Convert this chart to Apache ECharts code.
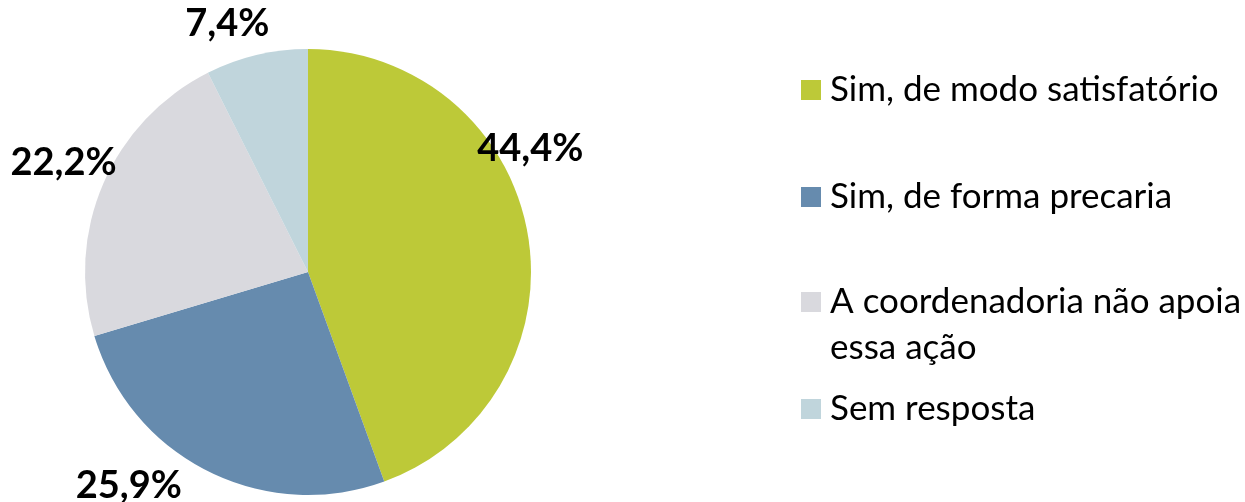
<!DOCTYPE html>
<html>
<head>
<meta charset="utf-8">
<script src="https://cdn.jsdelivr.net/npm/echarts@6/dist/echarts.min.js"></script>
<style>
  html, body { margin: 0; padding: 0; background: #fff; }
  #main { width: 1245px; height: 502px; }
</style>
</head>
<body>
<div id="main"></div>
<script>
const categories = ['Sim, de modo satisfatório', 'Sim, de forma precaria', 'A coordenadoria não apoia\nessa ação', 'Sem resposta'];
const shares = [44.4, 25.9, 22.2, 7.4];
const colors = ['#bdc938', '#668bae', '#d9d9de', '#c0d5dc'];

// where each percentage label sits: angle clockwise from 12 o'clock, distance as share of radius
const labelAngle = [61, 220, 294, 342];
const labelDist = [1.14, 1.25, 1.2, 1.17];

const cx = 308, cy = 272, radius = 223;
const legendTops = [67, 174, 233, 386];

window.onload = function () {
  const chartDom = document.getElementById('main');
  const myChart = echarts.init(chartDom);

  const legends = categories.map(function (name, i) {
    return {
      left: 801,
      top: legendTops[i],
      padding: 0,
      orient: 'vertical',
      icon: 'rect',
      itemWidth: 20,
      itemHeight: 20,
      itemGap: 0,
      selectedMode: false,
      data: [name],
      // blank first line keeps the square level with the first line of a two-line name
      formatter: function (n) { return n.indexOf('\n') >= 0 ? '\n' + n : n; },
      textStyle: { fontFamily: 'Lato', fontSize: 35, color: '#000', lineHeight: 46, padding: [0, 0, 0, 4] }
    };
  });

  const option = {
    animation: false,
    color: colors,
    legend: legends,
    series: [{
      type: 'pie',
      center: [cx, cy],
      radius: radius,
      startAngle: 90,
      clockwise: true,
      silent: true,
      data: categories.map(function (c, i) { return { name: c, value: shares[i] }; }),
      label: {
        show: true,
        position: 'inside',
        formatter: function (p) { return p.value.toFixed(1).replace('.', ',') + '%'; },
        fontFamily: 'Lato',
        fontWeight: 'bold',
        fontSize: 38,
        color: '#000'
      },
      labelLine: { show: false },
      labelLayout: function (params) {
        const i = params.dataIndex;
        const a = labelAngle[i] * Math.PI / 180;
        const d = labelDist[i] * radius;
        return {
          x: cx + d * Math.sin(a),
          y: cy - d * Math.cos(a),
          align: 'center',
          verticalAlign: 'middle'
        };
      }
    }]
  };
  option && myChart.setOption(option);
};
</script>
</body>
</html>
